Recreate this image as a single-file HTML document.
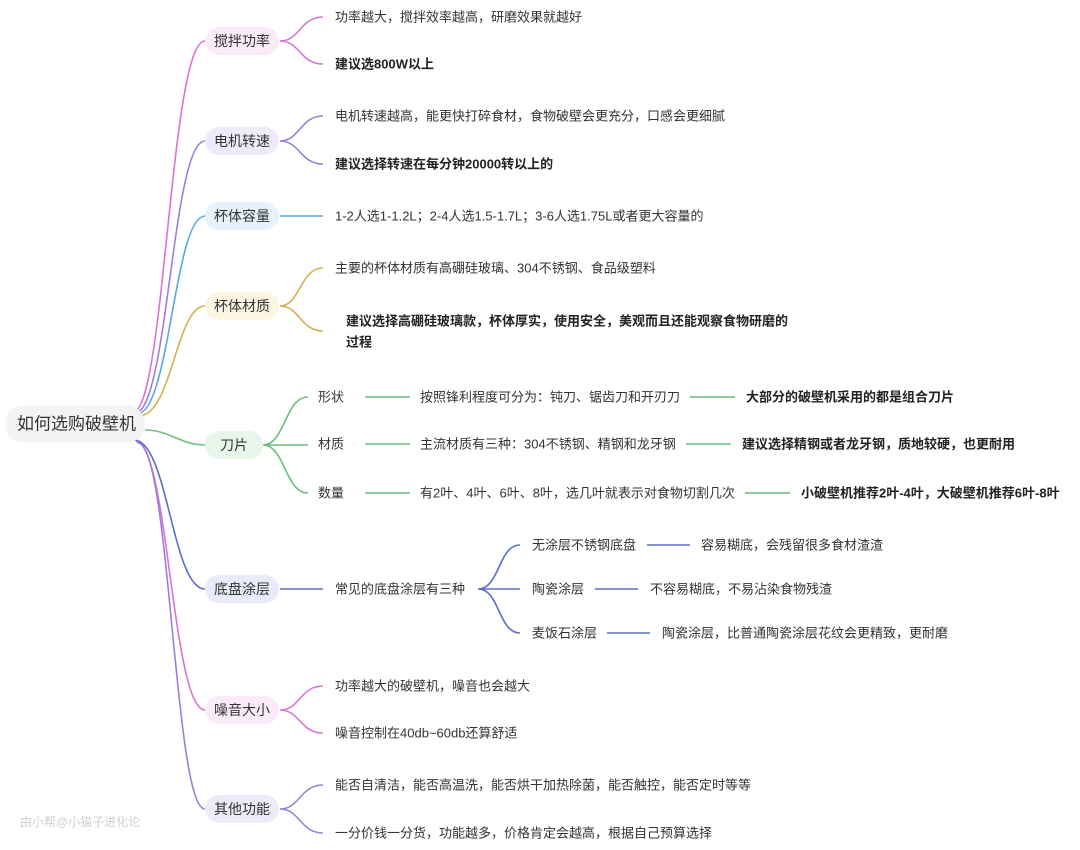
<!DOCTYPE html>
<html><head><meta charset="utf-8"><style>
html,body{margin:0;padding:0;background:#fff;}
svg{display:block;font-family:"Liberation Sans","Noto Sans CJK SC",sans-serif;}
text{font-size:13px;fill:#333;dominant-baseline:central;}
.b{font-weight:bold;fill:#222;}
.n{font-size:14px;fill:#333;text-anchor:middle;}
</style></head><body>
<svg width="1080" height="850" viewBox="0 0 1080 850" fill="none" stroke-width="1.6">
<!-- root edges -->
<path d="M133,412 C165,412 170,41 205,41" stroke="#d874d2"/>
<path d="M135,413 C168,413 172,141 205,141" stroke="#9a80d8"/>
<path d="M137,414 C170,414 174,216 205,216" stroke="#5aa9de"/>
<path d="M139,416 C172,416 176,306 205,306" stroke="#d8b04c"/>
<path d="M145,430 C170,430 180,445 205,445" stroke="#6cbf7c"/>
<path d="M134,440 C168,440 172,589 205,589" stroke="#5b6ec8"/>
<path d="M136,442 C168,442 172,710 205,710" stroke="#d874d2"/>
<path d="M138,443 C170,443 174,809 205,809" stroke="#9a80d8"/>

<!-- root -->
<rect x="5" y="405" width="140" height="38" rx="19" fill="#f4f4f4"/>
<text x="17" y="424" style="font-size:17px">如何选购破壁机</text>

<!-- branch nodes -->
<rect x="205" y="27" width="74" height="28" rx="14" fill="#fbeaf8"/>
<text class="n" x="242" y="41">搅拌功率</text>
<rect x="205" y="127" width="74" height="28" rx="14" fill="#efeafa"/>
<text class="n" x="242" y="141">电机转速</text>
<rect x="205" y="202" width="74" height="28" rx="14" fill="#e6f3fc"/>
<text class="n" x="242" y="216">杯体容量</text>
<rect x="205" y="292" width="74" height="28" rx="14" fill="#fcf5e2"/>
<text class="n" x="242" y="306">杯体材质</text>
<rect x="205" y="431" width="58" height="28" rx="14" fill="#e8f6ea"/>
<text class="n" x="234" y="445">刀片</text>
<rect x="205" y="575" width="74" height="28" rx="14" fill="#e8ecfa"/>
<text class="n" x="242" y="589">底盘涂层</text>
<rect x="205" y="696" width="74" height="28" rx="14" fill="#fbeaf8"/>
<text class="n" x="242" y="710">噪音大小</text>
<rect x="205" y="795" width="74" height="28" rx="14" fill="#efeafa"/>
<text class="n" x="242" y="809">其他功能</text>

<!-- 搅拌功率 -->
<path d="M280,41 C300,41 300,17 323,17 M280,41 C300,41 300,64 323,64" stroke="#d874d2"/>
<text x="335" y="17">功率越大，搅拌效率越高，研磨效果就越好</text>
<text class="b" x="335" y="64">建议选800W以上</text>
<!-- 电机转速 -->
<path d="M280,141 C300,141 300,116 323,116 M280,141 C300,141 300,164 323,164" stroke="#9a80d8"/>
<text x="335" y="116">电机转速越高，能更快打碎食材，食物破壁会更充分，口感会更细腻</text>
<text class="b" x="335" y="164">建议选择转速在每分钟20000转以上的</text>
<!-- 杯体容量 -->
<path d="M280,216 L323,216" stroke="#5aa9de"/>
<text x="335" y="216">1-2人选1-1.2L；2-4人选1.5-1.7L；3-6人选1.75L或者更大容量的</text>
<!-- 杯体材质 -->
<path d="M280,306 C300,306 300,268 323,268 M280,306 C300,306 300,331 323,331" stroke="#d8b04c"/>
<text x="335" y="268">主要的杯体材质有高硼硅玻璃、304不锈钢、食品级塑料</text>
<text class="b" x="346" y="321">建议选择高硼硅玻璃款，杯体厚实，使用安全，美观而且还能观察食物研磨的</text>
<text class="b" x="346" y="342">过程</text>

<!-- 刀片 -->
<g stroke="#6cbf7c">
<path d="M263,445 C285,445 285,397 308,397 M263,445 L308,445 M263,445 C285,445 285,493 308,493"/>
<path d="M365,397 H410 M690,397 H735 M365,444 H410 M686,444 H731 M365,493 H410 M745,493 H790"/>
</g>
<text x="318" y="397">形状</text>
<text x="420" y="397">按照锋利程度可分为：钝刀、锯齿刀和开刃刀</text>
<text class="b" x="746" y="397">大部分的破壁机采用的都是组合刀片</text>
<text x="318" y="444">材质</text>
<text x="420" y="444">主流材质有三种：304不锈钢、精钢和龙牙钢</text>
<text class="b" x="742" y="444">建议选择精钢或者龙牙钢，质地较硬，也更耐用</text>
<text x="318" y="493">数量</text>
<text x="420" y="493">有2叶、4叶、6叶、8叶，选几叶就表示对食物切割几次</text>
<text class="b" x="801" y="493">小破壁机推荐2叶-4叶，大破壁机推荐6叶-8叶</text>

<!-- 底盘涂层 -->
<g stroke="#5b6ec8">
<path d="M280,589 H323"/>
<path d="M478,589 C500,589 498,545 520,545 M478,589 H520 M478,589 C500,589 498,633 520,633"/>
<path d="M647,545 H690 M595,589 H638 M607,633 H650"/>
</g>
<text x="335" y="589">常见的底盘涂层有三种</text>
<text x="532" y="545">无涂层不锈钢底盘</text>
<text x="701" y="545">容易糊底，会残留很多食材渣渣</text>
<text x="532" y="589">陶瓷涂层</text>
<text x="650" y="589">不容易糊底，不易沾染食物残渣</text>
<text x="532" y="633">麦饭石涂层</text>
<text x="662" y="633">陶瓷涂层，比普通陶瓷涂层花纹会更精致，更耐磨</text>

<!-- 噪音大小 -->
<path d="M280,710 C300,710 300,686 323,686 M280,710 C300,710 300,733 323,733" stroke="#d874d2"/>
<text x="335" y="686">功率越大的破壁机，噪音也会越大</text>
<text x="335" y="733">噪音控制在40db~60db还算舒适</text>

<!-- 其他功能 -->
<path d="M280,809 C300,809 300,785 323,785 M280,809 C300,809 300,833 323,833" stroke="#9a80d8"/>
<text x="335" y="785">能否自清洁，能否高温洗，能否烘干加热除菌，能否触控，能否定时等等</text>
<text x="335" y="833">一分价钱一分货，功能越多，价格肯定会越高，根据自己预算选择</text>

<text x="20" y="822" style="fill:#d0d0d0;font-size:12px">由小帮@小猫子进化论</text>
</svg>
</body></html>
